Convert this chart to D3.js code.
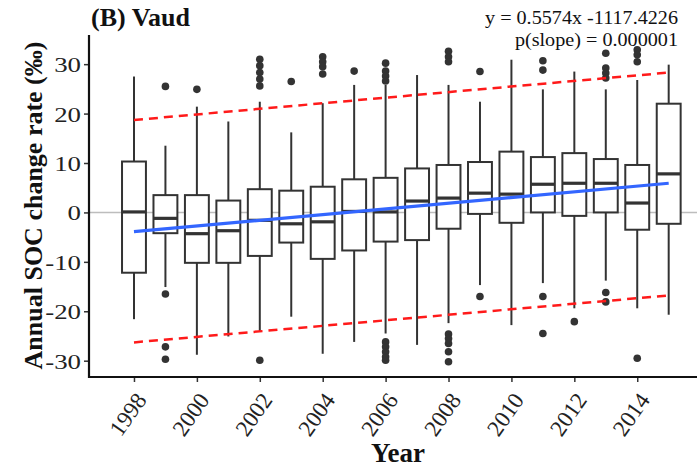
<!DOCTYPE html>
<html>
<head>
<meta charset="utf-8">
<script src="https://cdn.jsdelivr.net/npm/d3@7"></script>
<style>
  html, body { margin: 0; padding: 0; background: #fff; }
  svg { display: block; font-family: "Liberation Serif", "Times New Roman", serif; }
  svg text { font-family: "Liberation Serif", "Times New Roman", serif; }
</style>
</head>
<body>
<div id="chart"></div>
<script>
// box statistics per year (‰)
const years      = [1998, 1999, 2000, 2001, 2002, 2003, 2004, 2005, 2006, 2007, 2008, 2009, 2010, 2011, 2012, 2013, 2014, 2015];
const whiskerLow = [-21.6, -15.1, -28.8, -25.1, -24.1, -21.1, -28.6, -26.2, -24.5, -26.8, -22.4, -14.7, -22.8, -14.3, -19.4, -13.8, -19.4, -20.7];
const q1         = [-12.2, -4.2, -10.2, -10.2, -8.8, -6.1, -9.4, -7.7, -5.9, -5.6, -3.3, -0.3, -2.1, 0.0, -0.7, 0.0, -3.5, -2.3];
const medians    = [0.1, -1.2, -4.3, -3.7, -1.6, -2.3, -1.9, 0.2, 0.1, 2.3, 2.9, 3.9, 3.7, 5.7, 5.9, 5.9, 1.9, 7.8];
const q3         = [10.3, 3.5, 3.5, 2.4, 4.7, 4.4, 5.2, 6.7, 7.0, 8.9, 9.6, 10.2, 12.3, 11.2, 12.0, 10.8, 9.6, 22.0];
const whiskerHigh= [27.5, 13.5, 21.4, 18.4, 22.4, 16.2, 22.1, 25.8, 25.8, 27.8, 25.8, 22.4, 30.9, 24.9, 28.5, 24.9, 26.8, 29.9];
const outliers   = [
  [],
  [25.5, -16.5, -27.2, -29.7],
  [24.9],
  [],
  [31.0, 29.7, 28.3, 27.0, 25.6, -29.9],
  [26.5],
  [31.5, 30.5, 29.5, 28.0],
  [28.6],
  [30.2, 28.6, 27.6, 26.6, -26.2, -27.2, -28.2, -29.2, -29.9],
  [],
  [32.6, 31.5, 30.5, -24.6, -25.5, -26.5, -28.2, -30.2],
  [28.5, -17.0],
  [],
  [30.7, 28.8, -17.0, -24.5],
  [-22.1],
  [32.2, 29.2, 28.2, 27.2, -16.2, -18.1],
  [32.9, 31.9, 30.5, -29.5],
  []
];

// fitted trend and prediction band, endpoints at 1998 and 2015
const lineYears  = [1998, 2015];
const trendLine  = [-3.9, 5.9];
const upperBand  = [18.7, 28.3];
const lowerBand  = [-26.3, -16.8];

const yTicks = [-30, -20, -10, 0, 10, 20, 30];
const xTicks = [1998, 2000, 2002, 2004, 2006, 2008, 2010, 2012, 2014];
const equationLines = ["y = 0.5574x -1117.4226", "p(slope) = 0.000001"];

const width = 697, height = 468;
const plot = {left: 89, right: 697, top: 35, bottom: 377};
const serif = "'Liberation Serif', 'Times New Roman', serif";

const svg = d3.select("#chart")
  .append("svg")
  .attr("width", width)
  .attr("height", height);

const x = d3.scaleLinear()
  .domain([1996.57, 2015.9])
  .range([plot.left, plot.right]);

const y = d3.scaleLinear()
  .domain([-33.3, 35.9])
  .range([plot.bottom, plot.top]);

const boxW = x(1998.38) - x(1998);
const ink = "#333";

// zero reference line
svg.append("line")
  .attr("x1", plot.left).attr("x2", plot.right)
  .attr("y1", y(0)).attr("y2", y(0))
  .attr("stroke", "#bdbdbd")
  .attr("stroke-width", 1.5);

const boxes = years.map((year, i) => ({
  year, lo: whiskerLow[i], q1: q1[i], med: medians[i], q3: q3[i], hi: whiskerHigh[i], out: outliers[i]
}));

const g = svg.append("g");

const box = g.selectAll(".box")
  .data(boxes)
  .enter()
  .append("g")
  .attr("class", "box");

// whiskers
box.append("line")
  .attr("x1", d => x(d.year)).attr("x2", d => x(d.year))
  .attr("y1", d => y(d.hi)).attr("y2", d => y(d.q3))
  .attr("stroke", ink).attr("stroke-width", 2);

box.append("line")
  .attr("x1", d => x(d.year)).attr("x2", d => x(d.year))
  .attr("y1", d => y(d.q1)).attr("y2", d => y(d.lo))
  .attr("stroke", ink).attr("stroke-width", 2);

box.append("rect")
  .attr("x", d => x(d.year) - boxW)
  .attr("y", d => y(d.q3))
  .attr("width", boxW * 2)
  .attr("height", d => y(d.q1) - y(d.q3))
  .attr("fill", "#fff")
  .attr("stroke", ink)
  .attr("stroke-width", 2);

box.append("line")
  .attr("x1", d => x(d.year) - boxW).attr("x2", d => x(d.year) + boxW)
  .attr("y1", d => y(d.med)).attr("y2", d => y(d.med))
  .attr("stroke", ink).attr("stroke-width", 3.2);

box.selectAll("circle")
  .data(d => d.out.map(v => ({year: d.year, v})))
  .enter()
  .append("circle")
  .attr("cx", d => x(d.year))
  .attr("cy", d => y(d.v))
  .attr("r", 3.8)
  .attr("fill", ink);

// trend and band lines
const pts = vals => vals.map((v, i) => [lineYears[i], v]);
const line = d3.line().x(d => x(d[0])).y(d => y(d[1]));

[upperBand, lowerBand].forEach(band => {
  svg.append("path")
    .attr("d", line(pts(band)))
    .attr("fill", "none")
    .attr("stroke", "#ff1a1a")
    .attr("stroke-width", 2.5)
    .attr("stroke-dasharray", "9,6");
});

svg.append("path")
  .attr("d", line(pts(trendLine)))
  .attr("fill", "none")
  .attr("stroke", "#3366ff")
  .attr("stroke-width", 3.2);

// axes
const yAxis = svg.append("g")
  .attr("transform", `translate(${plot.left},0)`)
  .call(d3.axisLeft(y).tickValues(yTicks).tickSize(5).tickSizeOuter(0).tickFormat(d => String(d)))
  .attr("font-family", serif);

yAxis.select(".domain").remove();
yAxis.selectAll(".tick line").attr("stroke", ink).attr("stroke-width", 1.5);
yAxis.selectAll(".tick text")
  .attr("fill", "#222")
  .attr("font-size", 22)
  .attr("x", 0).attr("dy", "0.34em")
  .attr("transform", "translate(-8,0) scale(1.22,1)");

const xAxis = svg.append("g")
  .attr("transform", `translate(0,${plot.bottom})`)
  .call(d3.axisBottom(x).tickValues(xTicks).tickSize(5).tickSizeOuter(0).tickFormat(d => String(d)))
  .attr("font-family", serif);

xAxis.select(".domain").remove();
xAxis.selectAll(".tick line").attr("stroke", ink).attr("stroke-width", 1.5);
xAxis.selectAll(".tick text")
  .attr("fill", "#222")
  .attr("font-size", 23)
  .attr("text-anchor", "end")
  .attr("y", 0).attr("dy", 0)
  .attr("transform", "translate(13,23) rotate(-55)");

// axis lines (left and bottom only)
svg.append("line")
  .attr("x1", plot.left).attr("x2", plot.left)
  .attr("y1", plot.top).attr("y2", plot.bottom + 1)
  .attr("stroke", "#111").attr("stroke-width", 2.2);
svg.append("line")
  .attr("x1", plot.left - 1).attr("x2", plot.right)
  .attr("y1", plot.bottom).attr("y2", plot.bottom)
  .attr("stroke", "#111").attr("stroke-width", 2.2);

// texts
svg.append("text")
  .attr("x", 91).attr("y", 26)
  .style("font-size", "26px")
  .style("font-weight", "bold")
  .attr("fill", "#111")
  .text("(B) Vaud");

svg.selectAll(".eq")
  .data(equationLines)
  .enter()
  .append("text")
  .attr("class", "eq")
  .attr("transform", (d, i) => `translate(678,${24 + i * 22}) scale(1.12,1)`)
  .attr("text-anchor", "end")
  .style("font-size", "18px")
  .attr("fill", "#111")
  .text(d => d);

svg.append("text")
  .attr("transform", `translate(42,${(38 + 373) / 2}) rotate(-90)`)
  .attr("text-anchor", "middle")
  .style("font-size", "26px")
  .style("font-weight", "bold")
  .attr("fill", "#111")
  .text("Annual SOC change rate (‰)");

svg.append("text")
  .attr("x", 398).attr("y", 462)
  .attr("text-anchor", "middle")
  .style("font-size", "27px")
  .style("font-weight", "bold")
  .attr("fill", "#111")
  .text("Year");
</script>
</body>
</html>
